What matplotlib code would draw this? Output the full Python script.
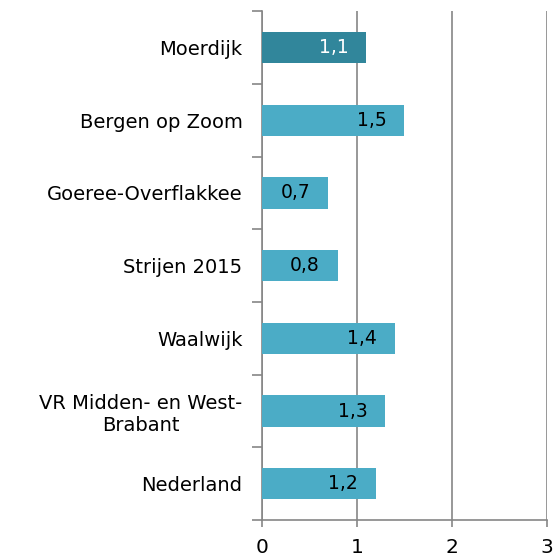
import matplotlib
matplotlib.use("Agg")
import matplotlib.pyplot as plt
import numpy as np

categories = ["Moerdijk", "Bergen op Zoom", "Goeree-Overflakkee", "Strijen 2015",
              "Waalwijk", "VR Midden- en West-\nBrabant", "Nederland"]
values = [1.1, 1.5, 0.7, 0.8, 1.4, 1.3, 1.2]
labels = ["1,1", "1,5", "0,7", "0,8", "1,4", "1,3", "1,2"]
bar_colors = ["#31869b"] + ["#4bacc6"] * 6
text_colors = ["white"] + ["black"] * 6

plt.rcParams['font.family'] = ['DejaVu Sans']

fig = plt.figure(figsize=(5.56, 5.56), dpi=100)
ax = fig.add_axes([0.471, 0.0647, 0.513, 0.915])

y = np.arange(len(categories))
ax.barh(y, values, height=0.43, color=bar_colors, zorder=3)
for yi, v, lab, tc in zip(y, values, labels, text_colors):
    ax.annotate(lab, (v, yi), xytext=(-13, 0), textcoords="offset points",
                ha="right", va="center", fontsize=13.5, color=tc, zorder=4)

ax.set_ylim(len(categories) - 0.5, -0.5)
ax.set_xlim(0, 3)
ax.set_xticks([0, 1, 2, 3])
ax.set_yticks(y)
ax.set_yticklabels(categories, fontsize=14, ha="right", multialignment="center")
ax.set_yticks(np.arange(-0.5, len(categories), 1), minor=True)
ax.tick_params(axis="y", which="major", length=0, pad=14)
ax.tick_params(axis="y", which="minor", length=7, color="#868686", width=1.2)
ax.tick_params(axis="x", length=5, color="#868686", width=1.2, labelsize=14.5, pad=8)

ax.grid(axis="x", color="#868686", linewidth=1.2, zorder=0)
for s in ["top", "right"]:
    ax.spines[s].set_visible(False)
for s in ["left", "bottom"]:
    ax.spines[s].set_color("#868686")
    ax.spines[s].set_linewidth(1.2)

fig.savefig("out.png", dpi=100)
